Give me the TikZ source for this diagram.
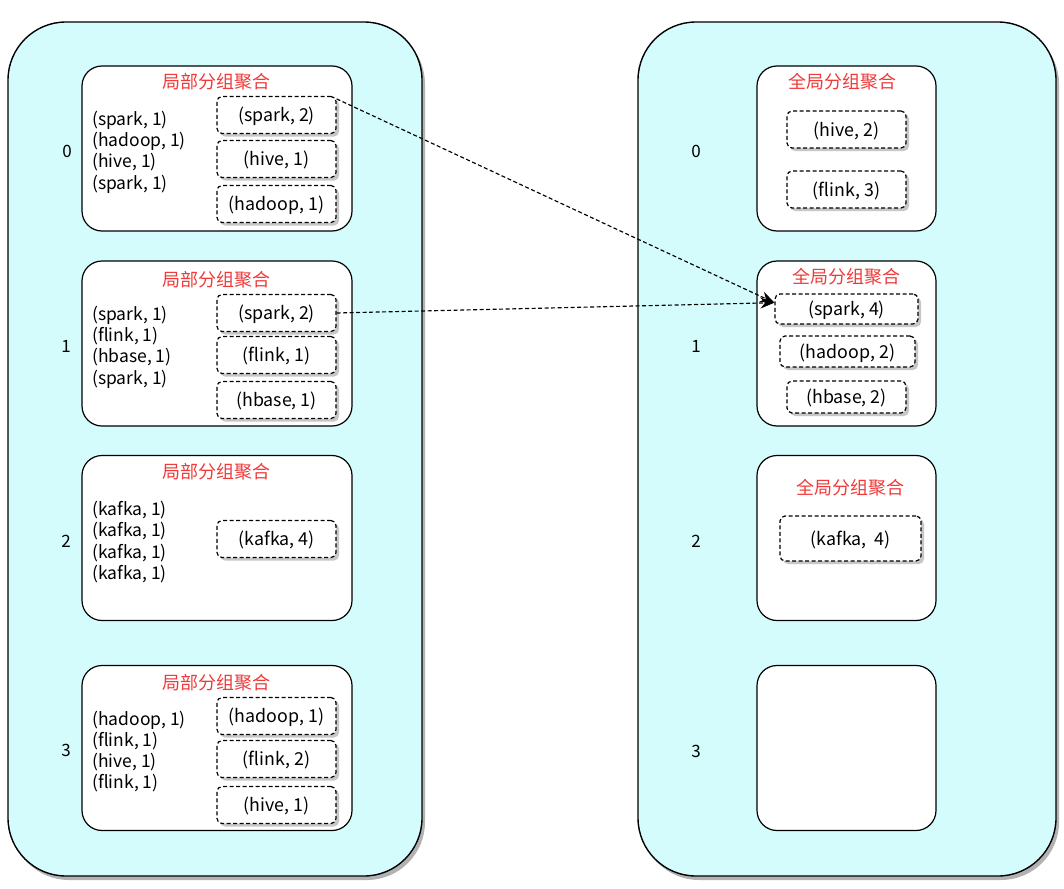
\documentclass[tikz,border=0pt]{standalone}
\usepackage{fontspec}
\setmainfont{Noto Sans CJK SC}
\usetikzlibrary{shadows,arrows.meta}
\definecolor{cyanbg}{HTML}{D4FCFC}
\definecolor{titlered}{HTML}{F03A3A}
\begin{document}
\begin{tikzpicture}[x=1pt,y=-1pt,
 container/.style={draw, line width=1.4pt, fill=cyanbg, rounded corners=58pt, minimum height=854pt,
   drop shadow={shadow xshift=3pt,shadow yshift=-4pt,fill=black!30,opacity=1}},
 part/.style={draw, line width=1.2pt, fill=white, rounded corners=20pt, minimum height=165pt},
 lpart/.style={part, minimum width=270pt},
 gpart/.style={part, minimum width=179pt},
 kv/.style={draw, dash pattern=on 4pt off 2.5pt, line width=1.2pt, fill=white, rounded corners=5pt,
   drop shadow={shadow xshift=3pt,shadow yshift=-3pt,fill=black!22,opacity=1},
   font=\fontsize{17.8}{21}\selectfont, inner sep=0pt, text height=16pt, text depth=2.5pt},
 lkv/.style={kv, minimum width=119pt, minimum height=37pt},
 ttl/.style={text=titlered, font=\fontsize{18}{21}\selectfont, inner sep=0pt},
 lst/.style={align=left, anchor=west, font=\fontsize{17.5}{21.3}\selectfont, inner sep=0pt},
 idx/.style={font=\fontsize{17}{20}\selectfont, inner sep=0pt},
 link/.style={dash pattern=on 4pt off 2.5pt, line width=1.15pt, -{Stealth[length=14pt,width=11pt]}}
]
\useasboundingbox (0,0) rectangle (1064,888);

% containers
\node[container, minimum width=414pt] (left) at (215,449) {};
\node[container, minimum width=418pt] (right) at (847,449) {};

% ---- left partitions ----
\node[lpart] (p0) at (217,148.5) {};
\node[lpart] (p1) at (217,343.5) {};
\node[lpart] (p2) at (217,538) {};
\node[lpart] (p3) at (217,748) {};

\node[ttl] (t0) at (216,82) {局部分组聚合};
\node[ttl] (t1) at (216,280) {局部分组聚合};
\node[ttl] (t2) at (216,472) {局部分组聚合};
\node[ttl] (t3) at (216,683) {局部分组聚合};

\node[idx] (i0) at (67,151) {0};
\node[idx] (i1) at (66,346) {1};
\node[idx] (i2) at (66,541) {2};
\node[idx] (i3) at (66,750) {3};

\node[lst] (s0) at (92,152) {(spark, 1)\\(hadoop, 1)\\(hive, 1)\\(spark, 1)};
\node[lst] (s1) at (92,347) {(spark, 1)\\(flink, 1)\\(hbase, 1)\\(spark, 1)};
\node[lst] (s2) at (92,542) {(kafka, 1)\\(kafka, 1)\\(kafka, 1)\\(kafka, 1)};
\node[lst] (s3) at (92,751.5) {(hadoop, 1)\\(flink, 1)\\(hive, 1)\\(flink, 1)};

\node[lkv] (l0a) at (276.5,115) {(spark, 2)};
\node[lkv] (l0b) at (276.5,159) {(hive, 1)};
\node[lkv] (l0c) at (276.5,204) {(hadoop, 1)};

\node[lkv] (l1a) at (276.5,313) {(spark, 2)};
\node[lkv] (l1b) at (276.5,355) {(flink, 1)};
\node[lkv] (l1c) at (276.5,400) {(hbase, 1)};

\node[lkv] (l2a) at (276.5,539) {(kafka, 4)};

\node[lkv] (l3a) at (276.5,716) {(hadoop, 1)};
\node[lkv] (l3b) at (276.5,759) {(flink, 2)};
\node[lkv] (l3c) at (276.5,805) {(hive, 1)};

% ---- right partitions ----
\node[gpart] (g0) at (846.5,148.5) {};
\node[gpart] (g1) at (846.5,343.5) {};
\node[gpart] (g2) at (846.5,538) {};
\node[gpart] (g3) at (846.5,748) {};

\node[ttl] (u0) at (842,82) {全局分组聚合};
\node[ttl] (u1) at (846,277) {全局分组聚合};
\node[ttl] (u2) at (850,488) {全局分组聚合};

\node[idx] (j0) at (696,151) {0};
\node[idx] (j1) at (696,346) {1};
\node[idx] (j2) at (696,541) {2};
\node[idx] (j3) at (696,751) {3};

\node[kv, minimum width=119pt, minimum height=37pt] (g0a) at (846.5,129.5) {(hive, 2)};
\node[kv, minimum width=119pt, minimum height=37pt] (g0b) at (846.5,189.5) {(flink, 3)};

\node[kv, minimum width=143pt, minimum height=30pt] (g1a) at (846.5,309) {(spark, 4)};
\node[kv, minimum width=135pt, minimum height=31pt] (g1b) at (847.5,351.5) {(hadoop, 2)};
\node[kv, minimum width=119pt, minimum height=32pt] (g1c) at (846.5,397) {(hbase, 2)};

\node[kv, minimum width=141pt, minimum height=45pt] (g2a) at (850.5,538.5) {(kafka,\ \ 4)};

% ---- connectors ----
\draw[link] (l0a.15) -- (g1a.175);
\draw[link] (l1a.east) -- (g1a.175);
\end{tikzpicture}
\end{document}
